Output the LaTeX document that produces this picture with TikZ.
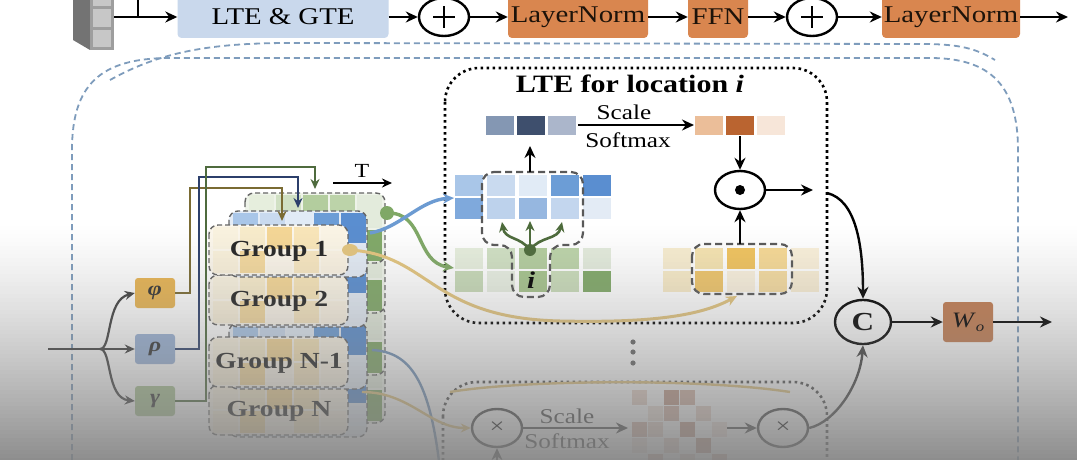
\documentclass[tikz,border=0pt]{standalone}
\usepackage{fontspec}
\setmainfont{Liberation Serif}[FakeStretch=1.2]
\usetikzlibrary{arrows.meta,shapes.geometric}
\definecolor{ltebl}{HTML}{C9D8EC}
\definecolor{lnor}{HTML}{D9864F}
\definecolor{outl}{HTML}{7E9CBC}
\definecolor{olivew}{HTML}{7A6B33}
\definecolor{navyw}{HTML}{2C3F6B}
\definecolor{greenw}{HTML}{4F6B3E}
\definecolor{phic}{HTML}{E9B552}
\definecolor{rhoc}{HTML}{9AB3D8}
\definecolor{gamc}{HTML}{A9C493}
\definecolor{woc}{HTML}{C47C50}
\definecolor{gbg}{HTML}{EEF3E9}
\definecolor{bbg}{HTML}{E4ECF6}
\definecolor{ybg}{HTML}{FBF3E2}
\definecolor{g1}{HTML}{E6EEDD}\definecolor{g2}{HTML}{D0E0C3}\definecolor{g3}{HTML}{B3CD9E}\definecolor{g4}{HTML}{BCD3A9}\definecolor{g5}{HTML}{E3EBDC}
\definecolor{g6}{HTML}{C8DAB8}\definecolor{g7}{HTML}{E8EFE2}\definecolor{g8}{HTML}{A6C48D}\definecolor{g9}{HTML}{CADCBA}\definecolor{g10}{HTML}{80A968}
\definecolor{b1}{HTML}{A9C6E8}\definecolor{b2}{HTML}{C9DAEF}\definecolor{b3}{HTML}{E1EBF6}\definecolor{b4}{HTML}{6C9DD6}\definecolor{b5}{HTML}{5A8ED0}
\definecolor{b6}{HTML}{7FA9DC}\definecolor{b7}{HTML}{BDD2EC}\definecolor{b8}{HTML}{96B7E0}\definecolor{b9}{HTML}{C3D6EE}\definecolor{b10}{HTML}{E3EBF5}
\definecolor{y1}{HTML}{F8EDD0}\definecolor{y2}{HTML}{F5E3B0}\definecolor{y3}{HTML}{F0C35E}\definecolor{y4}{HTML}{F6D995}\definecolor{y5}{HTML}{FAF0DA}
\definecolor{y6}{HTML}{F8EBC8}\definecolor{y7}{HTML}{EFC56A}\definecolor{y8}{HTML}{FAF1DE}\definecolor{y9}{HTML}{F5DBA0}\definecolor{y10}{HTML}{F9EED5}
\definecolor{sa}{HTML}{8497B3}\definecolor{sb}{HTML}{3E4F6D}\definecolor{sc}{HTML}{ABB6CB}
\definecolor{oa}{HTML}{EBBE99}\definecolor{ob}{HTML}{BA6430}\definecolor{oc}{HTML}{F7E6D9}
\definecolor{qcurve}{HTML}{6C9BD2}\definecolor{kcurve}{HTML}{7FA866}\definecolor{vcurve}{HTML}{E3C57E}
\definecolor{treec}{HTML}{4D6B3B}
\definecolor{p1}{HTML}{D7B5A5}\definecolor{p2}{HTML}{E8D3C8}\definecolor{p3}{HTML}{C49A88}\definecolor{p4}{HTML}{F0E2DA}
\tikzset{
  arr/.style={-{Stealth[length=12pt,width=11pt]}, line width=2.4pt},
  sarr/.style={-{Stealth[length=10pt,width=9pt]}, line width=2.2pt},
  topbox/.style={rounded corners=4pt, minimum height=42pt, inner sep=0pt, font=\fontsize{24}{24}\selectfont},
  lnbox/.style={topbox, fill=lnor, text=black!85!brown},
  pcirc/.style={ellipse, draw, line width=2.4pt, minimum width=50pt, minimum height=38pt, inner sep=0pt},
  grkbox/.style={rounded corners=3pt, minimum width=40pt, minimum height=30pt, inner sep=0pt, font=\bfseries\itshape\fontsize{20}{20}\selectfont},
  dotbox/.style={line width=2.6pt, dash pattern=on 2.6pt off 3.4pt, rounded corners=34pt},
  gdash/.style={draw=black!60, line width=1.4pt, dash pattern=on 5pt off 3pt, rounded corners=9pt},
  idash/.style={draw=black!65, line width=2.2pt, dash pattern=on 7pt off 4pt, rounded corners=12pt},
  outdash/.style={draw=outl, line width=1.8pt, dash pattern=on 6pt off 4pt},
  lbl/.style={font=\fontsize{21}{21}\selectfont},
  grptext/.style={font=\bfseries\fontsize{23}{23}\selectfont, text=black!85},
}
\newcommand\cellrow[6]{\foreach \cc [count=\ii from 0] in {#6}{\fill[\cc] ({#1+\ii*#5},#2) rectangle ++(#3,#4);}}
\newcommand\grp[2]{%
  \begin{scope}
    \clip[rounded corners=9pt] (245,#1-32) rectangle (385,#1+38);
    \fill[gbg] (245,#1-32) rectangle (385,#1+38);
    \cellrow{249}{#1-30}{25}{33}{27}{g1,g2,g3,g4,g5}
    \cellrow{249}{#1+5}{25}{31}{27}{g6,g7,g8,g9,g10}
  \end{scope}
  \draw[gdash] (245,#1-32) rectangle (385,#1+38);
  \begin{scope}
    \clip[rounded corners=9pt] (229,#1-14) rectangle (367,#1+52);
    \fill[bbg] (229,#1-14) rectangle (367,#1+52);
    \cellrow{233}{#1-12}{25}{30}{27}{b1,b2,b3,b4,b5}
    \cellrow{233}{#1+20}{25}{30}{27}{b6,b7,b8,b9,b10}
  \end{scope}
  \draw[gdash] (229,#1-14) rectangle (367,#1+52);
  \begin{scope}
    \clip[rounded corners=9pt] (209,#1) rectangle (348,#1+50);
    \fill[ybg] (209,#1) rectangle (348,#1+50);
    \cellrow{213}{#1+2}{25}{22}{27}{y1,y2,y3,y4,y5}
    \cellrow{213}{#1+26}{25}{22}{27}{y6,y7,y8,y9,y10}
    \fill[white, opacity=.35] (209,#1) rectangle (348,#1+50);
  \end{scope}
  \draw[gdash] (209,#1) rectangle (348,#1+50);
  \node[grptext] at (279,#1+26) {#2};
}
\begin{document}
\begin{tikzpicture}[x=1pt,y=-1pt]
\useasboundingbox (0,0) rectangle (1077,460);
\fill[white] (0,0) rectangle (1077,460);

% ---------- stack icon
\fill[black!55] (73,-2) -- (90,-2) -- (90,50) -- (73,40) -- cycle;
\fill[black!38] (90,-2) rectangle (114,50);
\fill[black!22] (93,-2) rectangle (111,6);
\fill[black!22] (93,9) rectangle (111,27);
\fill[black!22] (93,30) rectangle (111,47);
\coordinate (stk) at (114,17);
\coordinate (res) at (138,-5);

% ---------- top row
\node[topbox, fill=ltebl, minimum width=211pt] (lte) at (283,17) {LTE \& GTE};
\node[pcirc] (pa) at (444,17) {};
\node[lnbox, minimum width=140pt] (ln1) at (578,17) {LayerNorm};
\node[lnbox, minimum width=60pt] (ffn) at (718,17) {FFN};
\node[pcirc] (pb) at (812,17) {};
\node[lnbox, minimum width=138pt] (ln2) at (951,17) {LayerNorm};
\coordinate (out) at (1068,17);
\foreach \p in {pa,pb}{
  \draw[line width=2pt] ([xshift=-11pt]\p.center) -- ([xshift=11pt]\p.center)
                        ([yshift=-11pt]\p.center) -- ([yshift=11pt]\p.center);}
\draw[line width=2.4pt] (res) -- (138,17);
\draw[arr] (stk) -- (lte);
\draw[arr] (lte) -- (pa);
\draw[arr] (pa) -- (ln1);
\draw[arr] (ln1) -- (ffn);
\draw[arr] (ffn) -- (pb);
\draw[arr] (pb) -- (ln2);
\draw[arr] (ln2) -- (out);

% ---------- dashed outline
\draw[outdash] (72,470) -- (72,150) .. controls (72,85) and (100,58) .. (170,58) -- (930,58) .. controls (990,58) and (1018,85) .. (1018,150) -- (1018,470);
\draw[outdash] (110,80) .. controls (160,52) and (210,43) .. (290,43) -- (930,44) .. controls (960,45) and (975,48) .. (995,60);

% ---------- groups
\grp{385}{Group N}
\grp{337}{Group N-1}
\grp{275}{Group 2}
\grp{225}{Group 1}

% ---------- phi rho gamma
\node[grkbox, fill=phic, text=black!80] (phi) at (155,293) {φ};
\node[grkbox, fill=rhoc, text=black!80] (rho) at (155,349) {ρ};
\node[grkbox, fill=gamc, text=black!80] (gam) at (155,401) {γ};
\coordinate (inp) at (48,349);
\coordinate (jn) at (100,349);
\draw[line width=2.2pt, black!75] (inp) -- (jn);
\draw[sarr, black!75] (jn) .. controls (112,349) and (106,300) .. (phi.west);
\draw[sarr, black!75] (jn) -- (rho.west);
\draw[sarr, black!75] (jn) .. controls (112,349) and (106,398) .. (gam.west);

% wires
\draw[sarr, olivew, line width=2.8pt] (phi.east) -- (190,293) -- (190,188) -- (282,188) -- (282,221);
\draw[sarr, navyw, line width=2.8pt] (rho.east) -- (199,349) -- (199,177) -- (298,177) -- (298,208);
\draw[sarr, greenw, line width=2.8pt] (gam.east) -- (206,401) -- (206,167) -- (315,167) -- (315,189);

% T arrow
\coordinate (ta) at (333,183);
\coordinate (tb) at (392,183);
\draw[sarr] (ta) -- (tb);
\node[font=\fontsize{20}{20}\selectfont] (tl) at (362,171) {T};

% ---------- LTE for location i
\draw[dotbox] (445,68) rectangle (827,323);
\node[font=\bfseries\fontsize{25}{25}\selectfont] (ttl) at (630,84) {LTE for location \textit{i}};
\cellrow{486}{116}{28}{19}{31}{sa,sb,sc}
\cellrow{695}{116}{28}{19}{31}{oa,ob,oc}
\coordinate (sq) at (578,125);
\coordinate (so) at (694,125);
\draw[arr] (sq) -- (so);
\node[lbl] (scl) at (624,112) {Scale};
\node[lbl] (sfm) at (628,140) {Softmax};

% query / key / value grids
\cellrow{455}{175}{28}{21}{32}{b1,b2,b3,b4,b5}
\cellrow{455}{198}{28}{21}{32}{b6,b7,b8,b9,b10}
\cellrow{455}{248}{28}{21}{32}{g1,g2,g3,g4,g5}
\cellrow{455}{271}{28}{21}{32}{g6,g7,g8,g9,g10}
\cellrow{663}{248}{28}{21}{32}{y1,y2,y3,y4,y5}
\cellrow{663}{271}{28}{21}{32}{y6,y7,y8,y9,y10}
\draw[idash] (482,172) -- (583,172) -- (583,245) -- (550,245) -- (550,297) -- (512,297) -- (512,245) -- (482,245) -- cycle;
\draw[idash] (692,244) rectangle (792,294);
\node[font=\bfseries\itshape\fontsize{24}{24}\selectfont] (ii) at (531,280) {i};
\coordinate (qt) at (530,172);
\coordinate (qs) at (530,146);
\draw[arr] (qt) -- (qs);

% tree arrows
\coordinate (tr) at (530,250);
\coordinate (tra) at (502,222);
\coordinate (trb) at (530,221);
\coordinate (trc) at (562,222);
\fill[treec] (tr) circle (6pt);
\draw[sarr, treec, line width=2.6pt] (tr) .. controls (520,236) and (505,240) .. (tra);
\draw[sarr, treec, line width=2.6pt] (tr) -- (trb);
\draw[sarr, treec, line width=2.6pt] (tr) .. controls (540,236) and (558,240) .. (trc);

% odot
\node[pcirc] (od) at (740,190) {};
\fill (od.center) circle (5pt);
\coordinate (ot) at (740,136);
\coordinate (vb) at (740,244);
\coordinate (oo) at (813,190);
\draw[arr] (ot) -- (od);
\draw[arr] (vb) -- (od);
\draw[arr] (od) -- (oo);

% curves from groups
\coordinate (bsrc) at (370,233);
\coordinate (gdot) at (387,213);
\coordinate (ydot) at (350,250);
\coordinate (qin) at (454,198);
\coordinate (kin) at (454,268);
\coordinate (vin) at (737,296);
\draw[-{Stealth[length=11pt,width=10pt]}, vcurve, line width=3pt] (ydot) .. controls (430,255) and (430,318) .. (560,321) .. controls (650,323) and (700,316) .. (vin);
\fill[vcurve] (ydot) ellipse (8pt and 6pt);
\draw[-{Stealth[length=11pt,width=10pt]}, kcurve, line width=3.4pt] (gdot) .. controls (425,212) and (415,262) .. (kin);
\draw[-{Stealth[length=11pt,width=10pt]}, qcurve, line width=3.4pt] (bsrc) .. controls (400,228) and (420,200) .. (qin);
\fill[kcurve] (gdot) circle (7pt);

% ---------- C and W_o
\node[pcirc, minimum width=56pt, minimum height=44pt, font=\bfseries\fontsize{26}{26}\selectfont] (cc) at (863,322) {C};
\node[rounded corners=3pt, fill=woc, minimum width=50pt, minimum height=40pt, inner sep=0pt, font=\fontsize{22}{22}\selectfont] (wo) at (968,322) {\textit{W}\raisebox{-4pt}{\textit{\fontsize{14}{14}\selectfont o}}};
\coordinate (ltee) at (827,193);
\coordinate (fin) at (1052,322);
\draw[arr] (ltee) .. controls (856,200) and (863,245) .. (cc.north);
\draw[arr] (cc) -- (wo);
\draw[arr] (wo) -- (fin);

% ---------- lower (faded) LTE
\foreach \yy in {342,352,363} \fill[black!60] (633,\yy) circle (2.6pt);
\draw[dotbox, draw=black!70] (443,382) rectangle (827,520);
\node[pcirc, draw=black!75, font=\fontsize{22}{22}\selectfont] (xa) at (497,428) {×};
\node[pcirc, draw=black!75, font=\fontsize{22}{22}\selectfont] (xb) at (783,428) {×};
\node[lbl, text=black!75] (scl2) at (567,416) {Scale};
\node[lbl, text=black!75] (sfm2) at (567,441) {Softmax};
\coordinate (pm) at (628,428);
\coordinate (pm2) at (727,428);
\draw[arr, black!75] (xa) -- (pm);
\draw[arr, black!75] (pm2) -- (xb);
\draw[arr, black!75] (xb.east) .. controls (835,422) and (860,385) .. (cc.south);
\coordinate (xain) at (497,470);
\draw[arr, black!75] (xain) -- (xa);
\foreach \cx/\cy/\cc in {632/390/p2,664/390/p3,680/390/p1,648/406/p4,664/406/p1,696/406/p2,632/422/p1,648/422/p2,680/422/p3,712/422/p4,632/438/p4,664/438/p2,696/438/p3,648/454/p1,680/454/p2,712/454/p1}
  \fill[\cc] (\cx,\cy) rectangle ++(15,15);
\draw[vcurve, line width=2.4pt] (450,392) .. controls (520,380) and (700,378) .. (790,392);
\draw[qcurve!70!gray, line width=2.4pt] (372,350) .. controls (410,352) and (430,380) .. (440,470);
\draw[-{Stealth[length=10pt,width=9pt]}, vcurve, line width=2.4pt] (362,392) .. controls (410,392) and (430,428) .. (xa.west);

% ---------- bottom gray fade (stacked strips)
\foreach \k in {0,...,59}{
  \pgfmathsetmacro\op{0.9*((\k+0.5)/60)^1.3}
  \fill[black!50, fill opacity=\op] (0,{222+4*\k}) rectangle (1077,{226+4*\k});
}
\end{tikzpicture}
\end{document}
